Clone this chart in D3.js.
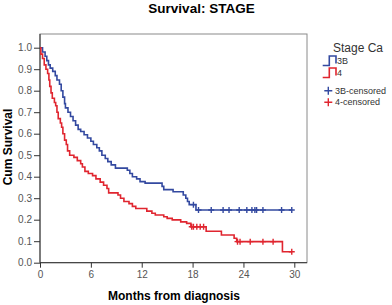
<!DOCTYPE html>
<html>
<head>
<meta charset="utf-8">
<script src="https://cdn.jsdelivr.net/npm/d3@7"></script>
<style>
body { margin: 0; background: #fff; }
svg { display: block; font-family: "Liberation Sans", Arial, sans-serif; }
</style>
</head>
<body>
<svg id="chart" width="392" height="305"></svg>
<script>
// step data: [months, cum survival after the drop]
var stage3B = [
  [0, 1.0], [0.3, 0.98], [0.6, 0.96], [0.8, 0.94], [1.0, 0.92], [1.2, 0.905],
  [1.5, 0.89], [1.8, 0.87], [2.0, 0.85], [2.3, 0.83], [2.5, 0.80], [2.7, 0.77],
  [2.9, 0.74], [3.0, 0.72], [3.3, 0.70], [3.6, 0.68], [3.9, 0.66], [4.2, 0.64],
  [4.5, 0.62], [4.8, 0.61], [5.2, 0.595], [5.6, 0.58], [6.0, 0.565], [6.3, 0.55],
  [6.7, 0.535], [7.0, 0.52], [7.3, 0.50], [7.7, 0.485], [8.0, 0.47], [8.4, 0.455],
  [8.9, 0.44], [10.3, 0.43], [10.6, 0.415], [10.9, 0.40], [11.4, 0.39], [11.8, 0.377],
  [12.4, 0.37], [14.4, 0.355], [14.6, 0.34], [15.7, 0.33], [16.9, 0.315], [17.2, 0.30],
  [17.4, 0.285], [17.6, 0.27], [18.4, 0.245], [29.7, 0.245]
];
var stage4 = [
  [0, 1.0], [0.1, 0.97], [0.3, 0.95], [0.5, 0.92], [0.7, 0.90], [0.9, 0.88],
  [1.05, 0.85], [1.15, 0.82], [1.3, 0.79], [1.45, 0.765], [1.7, 0.745], [1.85, 0.73],
  [2.0, 0.70], [2.15, 0.67], [2.4, 0.65], [2.55, 0.63], [2.7, 0.60], [2.9, 0.57],
  [3.1, 0.55], [3.25, 0.52], [3.5, 0.50], [4.0, 0.49], [4.4, 0.475], [4.8, 0.46],
  [5.0, 0.445], [5.3, 0.425], [5.7, 0.415], [6.2, 0.405], [6.6, 0.39], [7.1, 0.375],
  [7.5, 0.36], [7.9, 0.345], [8.1, 0.325], [9.2, 0.315], [9.5, 0.30], [9.9, 0.285],
  [10.5, 0.275], [10.9, 0.262], [11.3, 0.252], [12.6, 0.24], [13.2, 0.23], [13.6, 0.222],
  [14.6, 0.214], [15.0, 0.206], [15.6, 0.199], [16.6, 0.19], [17.3, 0.183], [17.8, 0.167],
  [19.6, 0.146], [21.4, 0.129], [22.9, 0.114], [23.2, 0.098], [28.6, 0.051], [29.7, 0.051]
];
// censored times
var censor3B = [18.1, 18.7, 20.2, 21.6, 22.3, 23.5, 24.4, 25.0, 25.35, 25.55, 26.3, 28.5, 29.7];
var censor4 = [17.9, 18.1, 18.5, 18.9, 19.3, 23.3, 23.6, 24.8, 26.3, 27.5, 29.7];
var xTicks = [0, 6, 12, 18, 24, 30];
var yTicks = [0, 0.1, 0.2, 0.3, 0.4, 0.5, 0.6, 0.7, 0.8, 0.9, 1.0];

var blue = "#3349a0", red = "#e0252f";

var svg = d3.select("#chart");

var x = d3.scaleLinear().domain([0, 30]).range([40, 294.3]);
var y = d3.scaleLinear().domain([0, 1]).range([262.7, 47.7]);

// step value lookup for censor marks
function stepAt(data, t) {
  var v = data[0][1];
  data.forEach(function(d) { if (d[0] <= t) v = d[1]; });
  return v;
}

// plot frame
svg.append("rect")
  .attr("x", 40).attr("y", 34)
  .attr("width", 267).attr("height", 228.7)
  .attr("fill", "none")
  .attr("stroke", "#8a8a8a")
  .attr("stroke-width", 1);

// axes
var yAxis = d3.axisLeft(y).tickValues(yTicks).tickFormat(d3.format(".1f")).tickSize(6).tickPadding(2);
var xAxis = d3.axisBottom(x).tickValues(xTicks).tickFormat(d3.format("d")).tickSize(5).tickPadding(3);

var gy = svg.append("g").attr("transform", "translate(40,0)").call(yAxis);
var gx = svg.append("g").attr("transform", "translate(0,262.7)").call(xAxis);
[gy, gx].forEach(function(g) {
  g.select(".domain").attr("stroke", "#333");
  g.selectAll(".tick line").attr("stroke", "#333");
  g.selectAll(".tick text").attr("fill", "#555").style("font-size", "10px")
    .style("font-family", "'Liberation Sans', Arial, sans-serif");
});
gx.select(".domain").attr("d", "M40,0H307");
gy.select(".domain").attr("d", "M0,262.7V34");

// survival curves
var line = d3.line()
  .x(function(d) { return x(d[0]); })
  .y(function(d) { return y(d[1]); })
  .curve(d3.curveStepAfter);

svg.append("path").datum(stage3B)
  .attr("d", line).attr("fill", "none").attr("stroke", blue).attr("stroke-width", 1.6);
svg.append("path").datum(stage4)
  .attr("d", line).attr("fill", "none").attr("stroke", red).attr("stroke-width", 1.6);

// censor marks
function plus(g, cx, cy, color, s) {
  g.append("path")
    .attr("d", "M" + (cx - s) + "," + cy + "H" + (cx + s) + "M" + cx + "," + (cy - s) + "V" + (cy + s))
    .attr("stroke", color).attr("stroke-width", 1.4).attr("fill", "none");
}
var cg = svg.append("g");
censor3B.forEach(function(t) { plus(cg, x(t), y(stepAt(stage3B, t)), blue, 3); });
censor4.forEach(function(t) { plus(cg, x(t), y(stepAt(stage4, t)), red, 3); });

// titles
svg.append("text").attr("x", 201.5).attr("y", 12.5).attr("text-anchor", "middle")
  .style("font-size", "13.5px").style("font-weight", "bold").text("Survival: STAGE");
svg.append("text").attr("x", 174).attr("y", 300).attr("text-anchor", "middle")
  .style("font-size", "12px").style("font-weight", "bold").text("Months from diagnosis");
svg.append("text").attr("transform", "translate(12,147) rotate(-90)").attr("text-anchor", "middle")
  .style("font-size", "12px").style("font-weight", "bold").text("Cum Survival");

// legend
var lg = svg.append("g");
lg.append("text").attr("x", 333).attr("y", 52).style("font-size", "12px").attr("fill", "#333").text("Stage Ca");
var items = [
  { label: "3B", color: blue, type: "step", y: 60.5 },
  { label: "4", color: red, type: "step", y: 72.5 },
  { label: "3B-censored", color: blue, type: "plus", y: 90.7 },
  { label: "4-censored", color: red, type: "plus", y: 102.3 }
];
items.forEach(function(d) {
  if (d.type === "step") {
    lg.append("path")
      .attr("d", "M322.7," + (d.y + 5) + "H329.3V" + (d.y - 4.5) + "H336V" + (d.y + 3))
      .attr("fill", "none").attr("stroke", d.color).attr("stroke-width", 1.6);
    lg.append("text").attr("x", 337).attr("y", d.y + 3).style("font-size", "9px").attr("fill", "#333").text(d.label);
  } else {
    plus(lg, 328.3, d.y, d.color, 4);
    lg.append("text").attr("x", 335).attr("y", d.y + 3).style("font-size", "9px").attr("fill", "#333").text(d.label);
  }
});
</script>
</body>
</html>
